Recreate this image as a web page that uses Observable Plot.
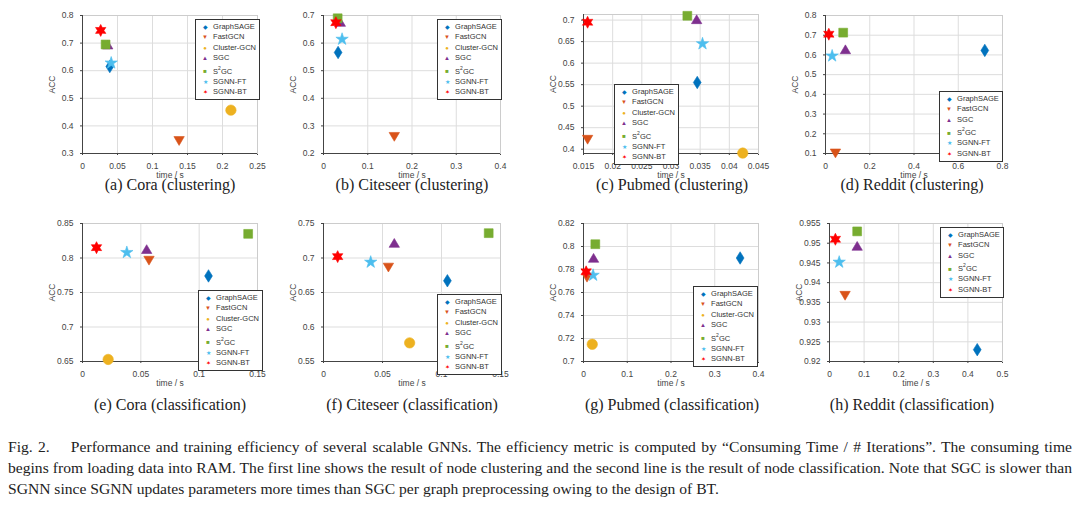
<!DOCTYPE html>
<html><head><meta charset="utf-8">
<script src="https://cdn.jsdelivr.net/npm/d3@7"></script>
<script src="https://cdn.jsdelivr.net/npm/@observablehq/plot@0.6"></script>
<style>
body{margin:0;background:#fff;width:1080px;height:506px;position:relative;overflow:hidden;font-family:"Liberation Sans",Arial,sans-serif}
.p{position:absolute}
.lg{position:absolute;border:1px solid #333;background:#fff;font:7.5px "Liberation Sans",Arial;color:#333;padding:2px 3px;line-height:9.4px}
.lg span.s{display:inline-block;width:12px;text-align:center;font-size:6px}
.cap{position:absolute;font:16px "Liberation Serif","Times New Roman",serif;color:#222;transform:translateX(-50%);white-space:nowrap}
#fig{position:absolute;left:8px;top:436px;width:1064px;font:15.6px/21px "Liberation Serif","Times New Roman",serif;color:#222;text-align:justify}
</style></head><body>
<div id="fig">Fig. 2.&nbsp;&nbsp;&nbsp; Performance and training efficiency of several scalable GNNs. The efficiency metric is computed by “Consuming Time / # Iterations”. The consuming time begins from loading data into RAM. The first line shows the result of node clustering and the second line is the result of node classification. Note that SGC is slower than SGNN since SGNN updates parameters more times than SGC per graph preprocessing owing to the design of BT.</div>
<script>
const methods = ["GraphSAGE", "FastGCN", "Cluster-GCN", "SGC", "S²GC", "SGNN-FT", "SGNN-BT"];
const colors = ["#0072BD", "#D95319", "#EDB120", "#7E2F8E", "#77AC30", "#4DBEEE", "#FF0000"];

// time / s and ACC per method (null = not run)
const coraClusT = [0.039, 0.138, 0.212, 0.036, 0.033, 0.041, 0.026];
const coraClusA = [0.615, 0.350, 0.457, 0.690, 0.695, 0.628, 0.746];
const citeClusT = [0.033, 0.160, 0.365, 0.038, 0.032, 0.042, 0.028];
const citeClusA = [0.566, 0.265, 0.418, 0.672, 0.690, 0.614, 0.674];
const pubClusT = [0.0345, 0.0157, 0.0423, 0.0344, 0.0328, 0.0354, 0.0157];
const pubClusA = [0.555, 0.425, 0.391, 0.699, 0.710, 0.645, 0.695];
const redClusT = [0.72, 0.045, null, 0.09, 0.08, 0.03, 0.015];
const redClusA = [0.623, 0.107, null, 0.622, 0.713, 0.595, 0.705];
const coraClasT = [0.108, 0.057, 0.022, 0.055, 0.142, 0.038, 0.012];
const coraClasA = [0.774, 0.798, 0.653, 0.811, 0.835, 0.808, 0.815];
const citeClasT = [0.105, 0.055, 0.073, 0.060, 0.140, 0.040, 0.012];
const citeClasA = [0.667, 0.688, 0.577, 0.720, 0.736, 0.694, 0.702];
const pubClasT = [0.358, 0.008, 0.020, 0.023, 0.027, 0.022, 0.006];
const pubClasA = [0.790, 0.774, 0.715, 0.789, 0.802, 0.775, 0.778];
const redClasT = [0.427, 0.045, null, 0.080, 0.080, 0.028, 0.017];
const redClasA = [0.923, 0.937, null, 0.949, 0.953, 0.9452, 0.951];

const sym = (pts) => ({draw(ctx, size) {
  const r = Math.sqrt(size / Math.PI);
  pts(r).forEach((poly) => {
    poly.forEach(([x, y], i) => i ? ctx.lineTo(x, y) : ctx.moveTo(x, y));
    ctx.closePath();
  });
}});
const star = (n, ro, ri) => (r) => [d3.range(2 * n).map(i => {
  const a = Math.PI * i / n - Math.PI / 2, rr = i % 2 ? r * ri : r * ro;
  return [rr * Math.cos(a), rr * Math.sin(a)];
})];
const symbols = [
  sym(r => [[[0, -r * 1.2], [r * 0.75, 0], [0, r * 1.2], [-r * 0.75, 0]]]),
  sym(r => [[[-r, -r * 0.6], [r, -r * 0.6], [0, r * 1.1]]]),
  d3.symbolCircle,
  sym(r => [[[-r, r * 0.6], [r, r * 0.6], [0, -r * 1.1]]]),
  sym(r => [[[-r * 0.85, -r * 0.85], [r * 0.85, -r * 0.85], [r * 0.85, r * 0.85], [-r * 0.85, r * 0.85]]]),
  sym(star(5, 1.25, 0.48)),
  sym(star(6, 1.15, 0.62))
];

const panels = [
  {t: coraClusT, a: coraClusA, x: [0, 0.25], xt: d3.range(0, 0.2501, 0.05), y: [0.3, 0.8], yt: d3.range(0.3, 0.801, 0.1), L: 82, T: 15, W: 175, H: 138, leg: [195, 19], cap: "(a) Cora (clustering)", cx: 170, cy: 176},
  {t: citeClusT, a: citeClusA, x: [0, 0.4], xt: d3.range(0, 0.401, 0.1), y: [0.2, 0.7], yt: d3.range(0.2, 0.701, 0.1), L: 323, T: 15, W: 177, H: 138, leg: [437, 19], cap: "(b) Citeseer (clustering)", cx: 412, cy: 176},
  {t: pubClusT, a: pubClusA, x: [0.015, 0.045], xt: d3.range(0.015, 0.0451, 0.005), y: [0.39, 0.713], yt: d3.range(0.4, 0.701, 0.05), L: 583, T: 14, W: 175, H: 139, leg: [614, 84], cap: "(c) Pubmed (clustering)", cx: 672, cy: 176},
  {t: redClusT, a: redClusA, x: [0, 0.8], xt: d3.range(0, 0.801, 0.2), y: [0.1, 0.8], yt: d3.range(0.1, 0.801, 0.1), L: 825, T: 15, W: 177, H: 138, leg: [939, 91], cap: "(d) Reddit (clustering)", cx: 912, cy: 176},
  {t: coraClasT, a: coraClasA, x: [0, 0.15], xt: d3.range(0, 0.1501, 0.05), y: [0.65, 0.85], yt: d3.range(0.65, 0.851, 0.05), L: 82, T: 223, W: 175, H: 138, leg: [198, 290], cap: "(e) Cora (classification)", cx: 170, cy: 396},
  {t: citeClasT, a: citeClasA, x: [0, 0.15], xt: d3.range(0, 0.1501, 0.05), y: [0.55, 0.75], yt: d3.range(0.55, 0.751, 0.05), L: 323, T: 223, W: 177, H: 138, leg: [437, 294], cap: "(f) Citeseer (classification)", cx: 412, cy: 396},
  {t: pubClasT, a: pubClasA, x: [0, 0.4], xt: d3.range(0, 0.401, 0.1), y: [0.7, 0.82], yt: d3.range(0.7, 0.8201, 0.02), L: 583, T: 223, W: 175, H: 138, leg: [693, 286], cap: "(g) Pubmed (classification)", cx: 672, cy: 396},
  {t: redClasT, a: redClasA, x: [0, 0.5], xt: d3.range(0, 0.501, 0.1), y: [0.92, 0.955], yt: d3.range(0.92, 0.9551, 0.005), L: 829, T: 223, W: 173, H: 138, leg: [940, 227], cap: "(h) Reddit (classification)", cx: 912, cy: 396}
];

const fmt = (v) => String(+v.toFixed(4));
const mL = 42, mT = 8, mR = 10, mB = 26;

panels.forEach((p) => {
  const pts = methods.map((m, i) => ({m, i, t: p.t[i], a: p.a[i]})).filter(d => d.t != null);
  const marks = [
    Plot.gridX(p.xt, {stroke: "#ddd", strokeOpacity: 1}),
    Plot.gridY(p.yt, {stroke: "#ddd", strokeOpacity: 1}),
    Plot.frame({stroke: "#ccc"}),
    Plot.ruleX([p.x[0]], {stroke: "#444"}),
    Plot.ruleY([p.y[0]], {stroke: "#444"})
  ];
  pts.forEach(d => {
    marks.push(Plot.dot([d], {x: "t", y: "a", r: 5.2, symbol: symbols[d.i], fill: colors[d.i], stroke: colors[d.i], strokeWidth: 0.6}));
  });
  const chart = Plot.plot({
    width: p.W + mL + mR, height: p.H + mT + mB,
    marginLeft: mL, marginTop: mT, marginRight: mR, marginBottom: mB,
    style: {fontSize: "8.5px", fontFamily: "Liberation Sans, Arial", color: "#444", background: "transparent", overflow: "visible"},
    x: {domain: p.x, ticks: p.xt, tickFormat: fmt, tickSize: 2, label: "time / s", labelAnchor: "center", labelArrow: "none", labelOffset: 24},
    y: {domain: p.y, ticks: p.yt, tickFormat: fmt, tickSize: 2, label: "ACC", labelAnchor: "center", labelArrow: "none", labelOffset: 34},
    marks
  });
  const wrap = document.createElement("div");
  wrap.className = "p";
  wrap.style.left = (p.L - mL) + "px";
  wrap.style.top = (p.T - mT) + "px";
  wrap.append(chart);
  document.body.append(wrap);

  const lg = document.createElement("div");
  lg.className = "lg";
  lg.style.left = p.leg[0] + "px";
  lg.style.top = p.leg[1] + "px";
  const glyph = ["◆", "▼", "●", "▲", "■", "★", "✶"];
  pts.forEach(d => {
    const row = document.createElement("div");
    const name = d.m === "S²GC" ? "S<sup style='font-size:5px'>2</sup>GC" : d.m;
    row.innerHTML = `<span class="s" style="color:${colors[d.i]}">${glyph[d.i]}</span> ${name}`;
    lg.append(row);
  });
  document.body.append(lg);

  const cap = document.createElement("div");
  cap.className = "cap";
  cap.style.left = p.cx + "px";
  cap.style.top = p.cy + "px";
  cap.textContent = p.cap;
  document.body.append(cap);
});
</script>
</body></html>
